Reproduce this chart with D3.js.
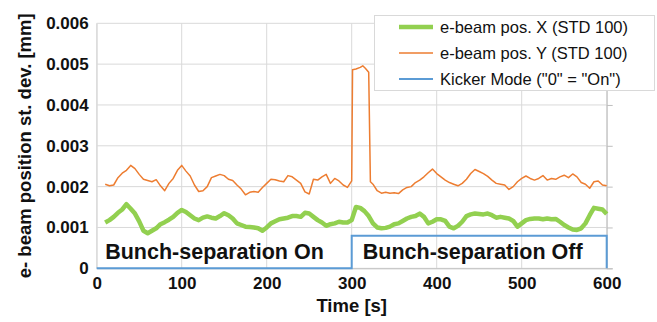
<!DOCTYPE html>
<html>
<head>
<meta charset="utf-8">
<script src="https://cdn.jsdelivr.net/npm/d3@7"></script>
<style>
  html, body { margin: 0; padding: 0; background: #fff; }
  svg { display: block; font-family: "Liberation Sans", Arial, sans-serif; }
</style>
</head>
<body>
<svg id="chart" width="657" height="322"></svg>
<script>
// Sample times [s] for the 100-sample moving standard deviation of the beam position
const timeX = [10,15,20,25,30,35,40,45,50,55,60,65,70,75,80,85,90,95,100,105,110,115,120,125,130,135,140,145,150,155,160,165,170,175,180,185,190,195,200,205,210,215,220,225,230,235,240,245,250,255,260,265,270,275,280,285,290,295,300,305,310,315,320,325,330,335,340,345,350,355,360,365,370,375,380,385,390,395,400,405,410,415,420,425,430,435,440,445,450,455,460,465,470,475,480,485,490,495,500,505,510,515,520,525,530,535,540,545,550,555,560,565,570,575,580,585,590,595,600];
// e-beam pos. X, st. dev. [mm]
const posX = [0.00112,0.00118,0.00126,0.00136,0.00144,0.00157,0.00146,0.00134,0.00115,0.00092,0.00086,0.00092,0.00098,0.00108,0.00113,0.00119,0.00126,0.00136,0.00143,0.00138,0.00130,0.00122,0.00118,0.00124,0.00127,0.00124,0.00122,0.00128,0.00135,0.00130,0.00122,0.00110,0.00106,0.00102,0.00101,0.00100,0.00098,0.00092,0.00100,0.00110,0.00115,0.00120,0.00122,0.00124,0.00128,0.00128,0.00126,0.00136,0.00134,0.00126,0.00118,0.00112,0.00104,0.00108,0.00110,0.00114,0.00112,0.00112,0.00118,0.00150,0.00148,0.00140,0.00128,0.00110,0.00100,0.00098,0.00099,0.00102,0.00108,0.00110,0.00116,0.00122,0.00126,0.00128,0.00134,0.00126,0.00110,0.00114,0.00120,0.00120,0.00116,0.00102,0.00098,0.00104,0.00114,0.00128,0.00132,0.00134,0.00133,0.00132,0.00134,0.00130,0.00124,0.00126,0.00124,0.00122,0.00116,0.00102,0.00110,0.00118,0.00121,0.00122,0.00122,0.00120,0.00122,0.00120,0.00121,0.00114,0.00106,0.00100,0.00095,0.00094,0.00098,0.00110,0.00130,0.00148,0.00146,0.00144,0.00133];

const timeY = [10,15,20,25,30,35,40,45,50,55,60,65,70,75,80,85,90,95,100,105,110,115,120,125,130,135,140,145,150,155,160,165,170,175,180,185,190,195,200,205,210,215,220,225,230,235,240,245,250,255,260,265,270,275,280,285,290,295,300,301,305,310,313,316,320,322,325,330,335,340,345,350,355,360,365,370,375,380,385,390,395,400,405,410,415,420,425,430,435,440,445,450,455,460,465,470,475,480,485,490,495,500,505,510,515,520,525,530,535,540,545,550,555,560,565,570,575,580,585,590,595,600];
// e-beam pos. Y, st. dev. [mm]
const posY = [0.00206,0.00202,0.00204,0.00222,0.00233,0.00240,0.00252,0.00244,0.00230,0.00218,0.00215,0.00212,0.00217,0.00202,0.00190,0.00208,0.00220,0.00240,0.00252,0.00238,0.00226,0.00204,0.00188,0.00190,0.00200,0.00222,0.00226,0.00230,0.00227,0.00218,0.00215,0.00204,0.00194,0.00180,0.00186,0.00188,0.00186,0.00198,0.00208,0.00218,0.00217,0.00214,0.00212,0.00227,0.00224,0.00216,0.00208,0.00187,0.00182,0.00218,0.00216,0.00224,0.00230,0.00208,0.00220,0.00214,0.00204,0.00198,0.00214,0.00486,0.00488,0.00492,0.00496,0.00490,0.00480,0.00212,0.00206,0.00190,0.00184,0.00186,0.00184,0.00185,0.00183,0.00192,0.00198,0.00200,0.00210,0.00216,0.00224,0.00234,0.00243,0.00232,0.00224,0.00216,0.00210,0.00206,0.00202,0.00208,0.00218,0.00232,0.00242,0.00237,0.00232,0.00225,0.00216,0.00208,0.00206,0.00204,0.00193,0.00200,0.00212,0.00220,0.00226,0.00220,0.00216,0.00220,0.00227,0.00216,0.00220,0.00218,0.00224,0.00228,0.00222,0.00231,0.00224,0.00210,0.00206,0.00196,0.00212,0.00214,0.00204,0.00202];

// Kicker Mode: 0 while bunch separation is on, raised level once it is switched off
const timeKicker = [0, 300, 300, 600, 600];
const kicker = [0, 0, 0.0008, 0.0008, 0];

const xTicks = [0, 100, 200, 300, 400, 500, 600];
const yTicks = [0, 0.001, 0.002, 0.003, 0.004, 0.005, 0.006];
const yTickLabels = ["0", "0.001", "0.002", "0.003", "0.004", "0.005", "0.006"];

const seriesNames = ["e-beam pos. X (STD 100)", "e-beam pos. Y (STD 100)", "Kicker Mode (\"0\" = \"On\")"];
const seriesColors = ["#92d050", "#ed7d31", "#5b9bd5"];
const phaseLabels = ["Bunch-separation On", "Bunch-separation Off"];

const svg = d3.select("#chart");
const margin = { left: 96.7, right: 50.3, top: 23.3, bottom: 53.7 };
const W = 657, H = 322;
const innerW = W - margin.left - margin.right;
const innerH = H - margin.top - margin.bottom;

const x = d3.scaleLinear().domain([0, 600]).range([margin.left, margin.left + innerW]);
const y = d3.scaleLinear().domain([0, 0.006]).range([margin.top + innerH, margin.top]);

// gridlines
const grid = svg.append("g").attr("stroke", "#d9d9d9").attr("stroke-width", 1);
grid.selectAll("line.h").data(yTicks).join("line")
  .attr("x1", x(0)).attr("x2", x(600))
  .attr("y1", d => y(d)).attr("y2", d => y(d));
grid.selectAll("line.v").data(xTicks).join("line")
  .attr("x1", d => x(d)).attr("x2", d => x(d))
  .attr("y1", y(0)).attr("y2", y(0.006));

// secondary axis on the right (no labels, outward ticks)
const rightAxis = d3.axisRight(y).tickValues(yTicks).tickFormat("").tickSizeOuter(0).tickSize(6);
const ra = svg.append("g").attr("transform", `translate(${x(600)},0)`).call(rightAxis);
ra.select(".domain").attr("stroke", "#bfbfbf");
ra.selectAll(".tick line").attr("stroke", "#bfbfbf");

// bottom axis
const bottomAxis = d3.axisBottom(x).tickValues(xTicks).tickSize(0).tickPadding(9);
const ba = svg.append("g").attr("transform", `translate(0,${y(0)})`).call(bottomAxis);
ba.select(".domain").attr("stroke", "#bfbfbf");
ba.selectAll("text").attr("font-size", 17).attr("font-weight", "bold").attr("fill", "#111")
  .attr("font-family", "Liberation Sans, Arial, sans-serif");

// left axis
const leftAxis = d3.axisLeft(y).tickValues(yTicks).tickFormat((d, i) => yTickLabels[i]).tickSize(0).tickPadding(8);
const la = svg.append("g").attr("transform", `translate(${x(0)},0)`).call(leftAxis);
la.select(".domain").attr("stroke", "#d9d9d9");
la.selectAll("text").attr("font-size", 17).attr("font-weight", "bold").attr("fill", "#111")
  .attr("font-family", "Liberation Sans, Arial, sans-serif");

// series
const line = d3.line().x(d => x(d[0])).y(d => y(d[1]));
svg.append("path").datum(d3.zip(timeKicker, kicker))
  .attr("fill", "none").attr("stroke", seriesColors[2]).attr("stroke-width", 2).attr("d", line);
svg.append("path").datum(d3.zip(timeX, posX))
  .attr("fill", "none").attr("stroke", seriesColors[0]).attr("stroke-width", 4.5)
  .attr("stroke-linejoin", "round").attr("d", line);
svg.append("path").datum(d3.zip(timeY, posY))
  .attr("fill", "none").attr("stroke", seriesColors[1]).attr("stroke-width", 1.5)
  .attr("stroke-linejoin", "round").attr("d", line);

// phase annotations
svg.append("text").attr("x", x(10)).attr("y", 259).text(phaseLabels[0])
  .attr("font-size", 21.5).attr("font-weight", "bold").attr("fill", "#111");
svg.append("text").attr("x", x(313)).attr("y", 259).text(phaseLabels[1])
  .attr("font-size", 21.5).attr("font-weight", "bold").attr("fill", "#111");

// axis titles
svg.append("text").attr("transform", `translate(31,${margin.top + innerH / 2}) rotate(-90)`)
  .attr("text-anchor", "middle").attr("font-size", 18.5).attr("font-weight", "bold").attr("fill", "#111")
  .text("e- beam position st. dev. [mm]");
svg.append("text").attr("x", x(300)).attr("y", 312).attr("text-anchor", "middle")
  .attr("font-size", 18.5).attr("font-weight", "bold").attr("fill", "#111").text("Time [s]");

// legend
const lg = svg.append("g");
lg.append("rect").attr("x", 374.5).attr("y", 15.5).attr("width", 280).attr("height", 75)
  .attr("fill", "#fff").attr("stroke", "#d9d9d9");
const rowY = [27, 53, 79];
const widths = [4.5, 1.5, 2];
seriesNames.forEach((name, i) => {
  lg.append("line").attr("x1", 399).attr("x2", 433).attr("y1", rowY[i]).attr("y2", rowY[i])
    .attr("stroke", seriesColors[i]).attr("stroke-width", widths[i]);
  lg.append("text").attr("x", 440).attr("y", rowY[i] + 5.5).text(name)
    .attr("font-size", 16.5).attr("fill", "#111");
});
</script>
</body>
</html>
